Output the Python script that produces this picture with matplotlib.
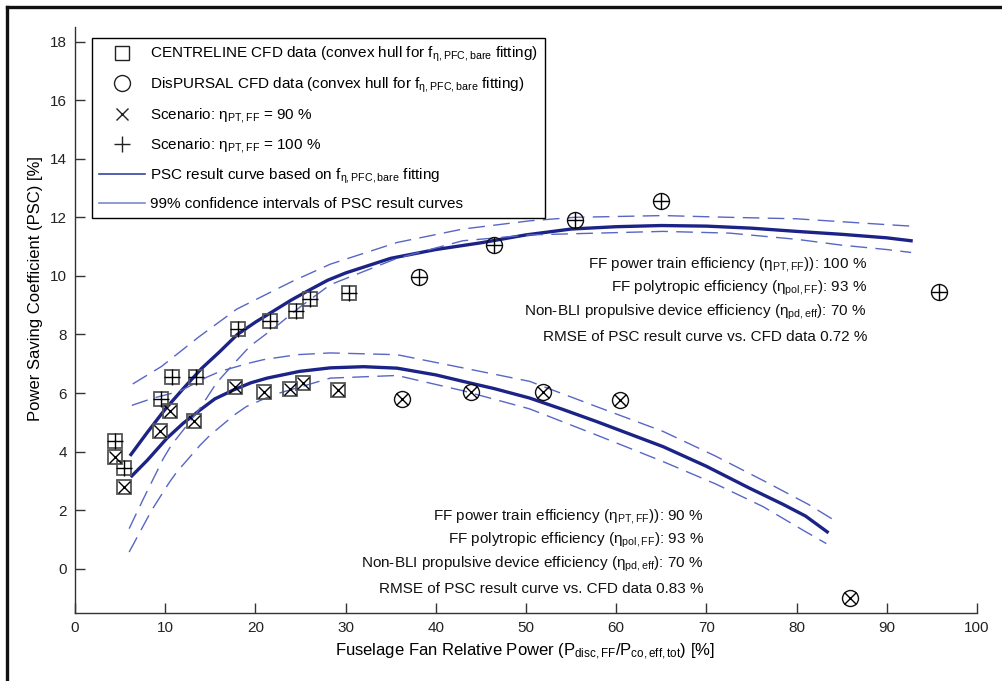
import matplotlib
matplotlib.use("Agg")
import matplotlib.pyplot as plt
from matplotlib import font_manager
from matplotlib.lines import Line2D

# --- data ---
# CENTRELINE CFD data, scenario eta_PT,FF = 100 %
cl100_x = [4.4, 5.4, 9.5, 10.8, 13.4, 18.1, 21.6, 24.5, 26.1, 30.4]
cl100_y = [4.35, 3.45, 5.8, 6.55, 6.55, 8.2, 8.45, 8.8, 9.2, 9.4]
# CENTRELINE CFD data, scenario eta_PT,FF = 90 %
cl90_x = [4.4, 5.4, 9.4, 10.5, 13.2, 17.7, 21.0, 23.8, 25.3, 29.2]
cl90_y = [3.8, 2.8, 4.7, 5.4, 5.05, 6.2, 6.05, 6.15, 6.35, 6.1]
# DisPURSAL CFD data, scenario 100 %
dp100_x = [38.1, 46.4, 55.4, 65.0, 95.8]
dp100_y = [9.95, 11.05, 11.9, 12.55, 9.45]
# DisPURSAL CFD data, scenario 90 %
dp90_x = [36.3, 43.9, 51.9, 60.4, 85.9]
dp90_y = [5.8, 6.05, 6.05, 5.75, -1.0]

# PSC result curve, 100 %
fit100_x = [6.2, 8, 10, 12, 14, 16, 18, 20, 22, 24, 26, 28, 30, 35, 40, 45, 50,
            55, 60, 65, 70, 75, 80, 85, 90, 92.7]
fit100_y = [3.9, 4.65, 5.45, 6.15, 6.83, 7.4, 8.0, 8.42, 8.8, 9.18, 9.52, 9.85,
            10.1, 10.6, 10.9, 11.13, 11.4, 11.6, 11.68, 11.72, 11.7, 11.63,
            11.52, 11.42, 11.3, 11.2]
ci100_hi_x = [6.4, 9.6, 13.7, 17.9, 20.1, 24, 28.3, 35.7, 43, 50.4, 55.4, 65.2,
              72.6, 80, 85, 90, 92.7]
ci100_hi_y = [6.31, 6.91, 7.91, 8.86, 9.2, 9.8, 10.4, 11.14, 11.6, 11.88, 12.0,
              12.06, 12.0, 11.95, 11.85, 11.75, 11.7]
ci100_lo_x = [6.0, 7.6, 9.8, 10.7, 12.6, 13.9, 15.7, 17.6, 19.4, 22.4, 25, 28.3,
              35.7, 43, 50.4, 65.2, 72.6, 80, 85, 90, 92.7]
ci100_lo_y = [1.37, 2.4, 3.77, 4.23, 4.97, 5.5, 6.35, 7.0, 7.6, 8.3, 8.95, 9.7,
              10.6, 11.2, 11.4, 11.52, 11.46, 11.25, 11.05, 10.9, 10.8]

# PSC result curve, 90 %
fit90_x = [6.3, 8, 10.2, 12, 13.9, 15.5, 17.6, 19.5, 21.3, 24.9, 28.3, 32, 35.7,
           40, 43, 46.5, 50.4, 54, 57.8, 61.5, 65.2, 70, 74.8, 78.5, 81, 83.4]
fit90_y = [3.17, 3.7, 4.46, 4.97, 5.43, 5.8, 6.11, 6.35, 6.51, 6.74, 6.86, 6.9,
           6.85, 6.62, 6.4, 6.15, 5.83, 5.45, 5.03, 4.6, 4.17, 3.5, 2.75, 2.2,
           1.8, 1.26]
ci90_hi_x = [6.3, 8.7, 11.6, 14.6, 16.1, 19.4, 20.9, 24.6, 28.3, 35.7, 43, 50.4,
             57.8, 65.2, 71, 76.7, 81.3, 83.9]
ci90_hi_y = [5.58, 5.83, 6.06, 6.54, 6.74, 7.03, 7.14, 7.31, 7.37, 7.31, 6.86,
             6.4, 5.54, 4.69, 3.85, 2.95, 2.2, 1.71]
ci90_lo_x = [6.0, 7.8, 8.5, 10.5, 11.3, 13.9, 15.0, 17.7, 19.0, 22.0, 28.3, 35.7,
             43, 50.4, 57.8, 65.2, 71, 76.3, 80.7, 83.3]
ci90_lo_y = [0.57, 1.6, 2.0, 2.97, 3.31, 4.23, 4.57, 5.26, 5.54, 5.94, 6.51, 6.6,
             6.08, 5.46, 4.57, 3.66, 2.9, 2.12, 1.32, 0.86]

x_ticks = list(range(0, 101, 10))
y_ticks = list(range(0, 19, 2))

legend_labels = [
    r"CENTRELINE CFD data (convex hull for f$_{\mathrm{η,PFC,bare}}$ fitting)",
    r"DisPURSAL CFD data (convex hull for f$_{\mathrm{η,PFC,bare}}$ fitting)",
    r"Scenario: η$_{\mathrm{PT,FF}}$ = 90 %",
    r"Scenario: η$_{\mathrm{PT,FF}}$ = 100 %",
    r"PSC result curve based on f$_{\mathrm{η,PFC,bare}}$ fitting",
    "99% confidence intervals of PSC result curves",
]
note100 = [
    r"FF power train efficiency (η$_{\mathrm{PT,FF}}$)): 100 %",
    r"FF polytropic efficiency (η$_{\mathrm{pol,FF}}$): 93 %",
    r"Non-BLI propulsive device efficiency (η$_{\mathrm{pd,eff}}$): 70 %",
    "RMSE of PSC result curve vs. CFD data 0.72 %",
]
note90 = [
    r"FF power train efficiency (η$_{\mathrm{PT,FF}}$)): 90 %",
    r"FF polytropic efficiency (η$_{\mathrm{pol,FF}}$): 93 %",
    r"Non-BLI propulsive device efficiency (η$_{\mathrm{pd,eff}}$): 70 %",
    "RMSE of PSC result curve vs. CFD data 0.83 %",
]

# --- font ---
names = {f.name for f in font_manager.fontManager.ttflist}
font = "Liberation Sans Narrow" if "Liberation Sans Narrow" in names else "Liberation Sans"
plt.rcParams["font.family"] = [font, "DejaVu Sans"]
plt.rcParams["mathtext.fontset"] = "custom"
plt.rcParams["mathtext.rm"] = font
plt.rcParams["mathtext.it"] = font + ":italic"
plt.rcParams["mathtext.bf"] = font + ":bold"

NAVY = "#1c2386"
LIGHT = "#5866c4"
AXC = "#333333"
FS = 11

fig = plt.figure(figsize=(10.03, 6.81), dpi=100)
ax = fig.add_axes([0.0748, 0.1003, 0.8992, 0.8601])

# curves
ax.plot(fit100_x, fit100_y, color=NAVY, lw=2.4, zorder=3)
ax.plot(fit90_x, fit90_y, color=NAVY, lw=2.4, zorder=3)
for cx, cy in [(ci100_hi_x, ci100_hi_y), (ci100_lo_x, ci100_lo_y),
               (ci90_hi_x, ci90_hi_y), (ci90_lo_x, ci90_lo_y)]:
    ax.plot(cx, cy, color=LIGHT, lw=1.0, dashes=(12, 6), zorder=3)

# markers
sq = dict(marker="s", ms=10.5, mfc="none", mec="#555555", mew=1.3, ls="none", zorder=4)
ci = dict(marker="o", ms=11.5, mfc="none", mec="#111111", mew=1.0, ls="none", zorder=4)
ax.plot(cl100_x, cl100_y, **sq)
ax.plot(cl90_x, cl90_y, **sq)
ax.plot(dp100_x, dp100_y, **ci)
ax.plot(dp90_x, dp90_y, **ci)
ax.plot(cl100_x + dp100_x, cl100_y + dp100_y, marker="+", ms=12, mec="black",
        mew=1.0, ls="none", zorder=5)
ax.plot(cl90_x + dp90_x, cl90_y + dp90_y, marker="x", ms=8.5, mec="black",
        mew=1.0, ls="none", zorder=5)

ax.set_xlim(0, 100)
ax.set_ylim(-1.5, 18.5)
ax.set_xticks(x_ticks)
ax.set_yticks(y_ticks)
ax.tick_params(direction="in", length=7, width=1.0, color=AXC, labelsize=FS,
               pad=6, labelcolor="#222222")
for s in ["top", "right"]:
    ax.spines[s].set_visible(False)
for s in ["left", "bottom"]:
    ax.spines[s].set_color(AXC)
    ax.spines[s].set_linewidth(1.0)

ax.set_xlabel(r"Fuselage Fan Relative Power (P$_{\mathrm{disc,FF}}$/P$_{\mathrm{co,eff,tot}}$) [%]",
              fontsize=FS + 1)
ax.set_ylabel("Power Saving Coefficient (PSC) [%]", fontsize=FS + 1)
ax.xaxis.set_label_coords(0.499, -0.05)
ax.yaxis.set_label_coords(-0.0355, 0.553)

# legend
handles = [
    Line2D([], [], marker="s", ms=10.5, mfc="none", mec="#222222", mew=1.0, ls="none"),
    Line2D([], [], marker="o", ms=11.5, mfc="none", mec="#222222", mew=1.0, ls="none"),
    Line2D([], [], marker="x", ms=9, mec="#222222", mew=1.0, ls="none"),
    Line2D([], [], marker="+", ms=12, mec="#222222", mew=1.0, ls="none"),
    Line2D([], [], color="#3a44a0", lw=1.2),
    Line2D([], [], color="#7c88cc", lw=1.2),
]
leg = ax.legend(handles, legend_labels, loc="upper left",
                bbox_to_anchor=(0.0188, 0.981), borderaxespad=0,
                fontsize=FS, frameon=True, fancybox=False, framealpha=1,
                edgecolor="black", handlelength=3.0, handletextpad=0.35,
                labelspacing=0.74, borderpad=0.45)
leg.get_frame().set_linewidth(1.0)

# annotations (right aligned)
for i, t in enumerate(note100):
    ax.text(87.8, 10.38 - i * 0.82, t, ha="right", va="center", fontsize=FS,
            color="#111111")
for i, t in enumerate(note90):
    ax.text(69.7, 1.8 - i * 0.83, t, ha="right", va="center", fontsize=FS,
            color="#111111")

# outer frame of the figure (cut at right and bottom)
W, H = 1003, 681
fig.add_artist(Line2D([7 / W, 1], [1 - 7 / H, 1 - 7 / H], color="#111111", lw=2.4,
                      transform=fig.transFigure))
fig.add_artist(Line2D([7 / W, 7 / W], [0, 1 - 7 / H], color="#111111", lw=2.4,
                      transform=fig.transFigure))

fig.savefig("out.png", dpi=100)
